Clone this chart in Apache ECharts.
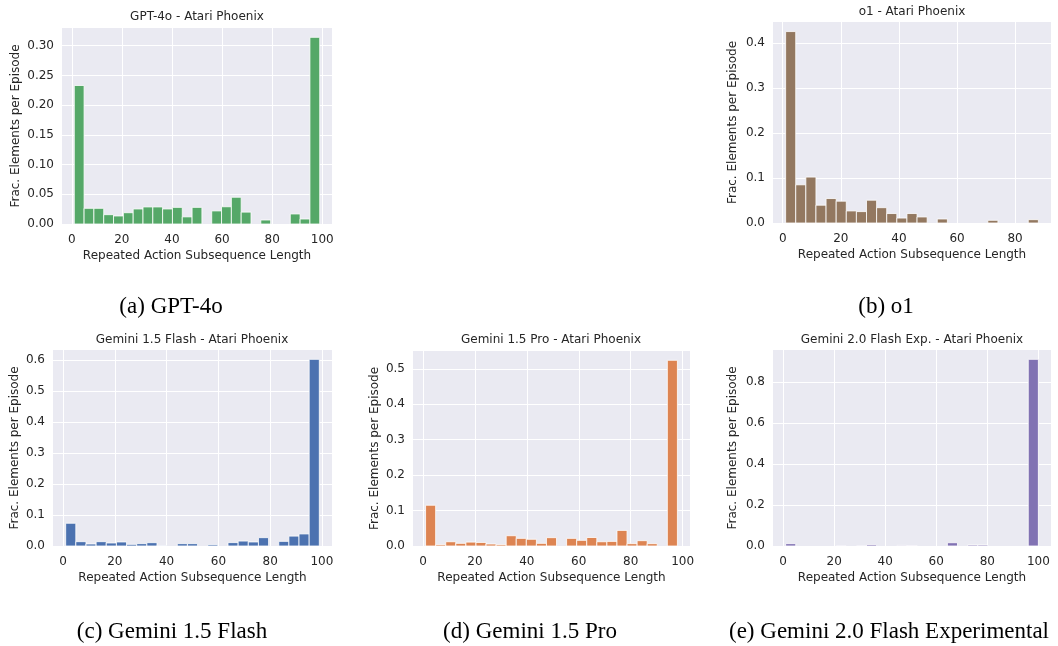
<!DOCTYPE html>
<html><head><meta charset="utf-8">
<script src="https://cdn.jsdelivr.net/npm/echarts@6/dist/echarts.min.js"></script>
<style>html,body{margin:0;padding:0;background:#fff}#c{width:1058px;height:646px}</style>
</head><body><div id="c"></div>
<script>
// ---------------- data ----------------
const binCount = 25;
const panelTitles = ['GPT-4o - Atari Phoenix', 'o1 - Atari Phoenix', 'Gemini 1.5 Flash - Atari Phoenix', 'Gemini 1.5 Pro - Atari Phoenix', 'Gemini 2.0 Flash Exp. - Atari Phoenix'];
const captions = ['(a) GPT-4o', '(b) o1', '(c) Gemini 1.5 Flash', '(d) Gemini 1.5 Pro', '(e) Gemini 2.0 Flash Experimental'];
const xAxisName = 'Repeated Action Subsequence Length';
const yAxisName = 'Frac. Elements per Episode';
// data range (min, max subsequence length) of each histogram
const binRanges = [[1, 99], [1, 88], [1, 99], [1, 98], [1, 100]];
const xTicks = [[0, 20, 40, 60, 80, 100], [0, 20, 40, 60, 80], [0, 20, 40, 60, 80, 100], [0, 20, 40, 60, 80, 100], [0, 20, 40, 60, 80, 100]];
const yTicks = [[0, 0.05, 0.10, 0.15, 0.20, 0.25, 0.30], [0, 0.1, 0.2, 0.3, 0.4], [0, 0.1, 0.2, 0.3, 0.4, 0.5, 0.6], [0, 0.1, 0.2, 0.3, 0.4, 0.5], [0, 0.2, 0.4, 0.6, 0.8]];
const yDecimals = [2, 1, 1, 1, 1];

const gpt4o = [0.233, 0.0264, 0.0264, 0.0157, 0.0135, 0.019, 0.0253, 0.0287, 0.0287, 0.0253, 0.028, 0.012, 0.028, 0, 0.022, 0.029, 0.045, 0.020, 0, 0.0067, 0, 0, 0.0169, 0.0084, 0.314];
const o1 = [0.425, 0.0848, 0.102, 0.0395, 0.0543, 0.0484, 0.0268, 0.0253, 0.0506, 0.034, 0.021, 0.011, 0.021, 0.0134, 0, 0.0089, 0, 0, 0, 0, 0.006, 0, 0, 0, 0.0074];
const gemini15Flash = [0.0735, 0.014, 0.0065, 0.014, 0.0097, 0.013, 0.0054, 0.0076, 0.0108, 0.001, 0, 0.0076, 0.0076, 0, 0.0043, 0, 0.011, 0.016, 0.013, 0.027, 0, 0.015, 0.032, 0.039, 0.603];
const gemini15Pro = [0.115, 0.0038, 0.012, 0.0075, 0.011, 0.010, 0.0056, 0.0038, 0.029, 0.0216, 0.019, 0.0075, 0.0235, 0, 0.0216, 0.016, 0.024, 0.012, 0.013, 0.044, 0.0066, 0.015, 0.0066, 0, 0.524];
const gemini20FlashExp = [0.0114, 0, 0, 0, 0, 0.0015, 0, 0.0015, 0.0065, 0, 0, 0.003, 0.002, 0, 0, 0, 0.016, 0, 0.005, 0.005, 0, 0, 0, 0, 0.912];

const seriesValues = [gpt4o, o1, gemini15Flash, gemini15Pro, gemini20FlashExp];

// ---------------- styles / layout ----------------
const colors = ['#55A868', '#937860', '#4C72B0', '#DD8452', '#8172B3'];
const grids = [
  { left: 62, top: 28, width: 270, height: 196 },
  { left: 773, top: 22, width: 278, height: 201 },
  { left: 53, top: 350, width: 279, height: 196 },
  { left: 413, top: 351, width: 277, height: 195 },
  { left: 773, top: 350, width: 278, height: 196 }
];
const yNameGaps = [40, 34, 32, 32, 34];
const titlePos = [[197, 17], [912, 12], [192, 340], [551, 340], [912, 340]];
const captionPos = [[171, 307], [886, 307], [172, 632], [530, 632], [889, 632]];
const textColor = '#262626';
const sans = 'DejaVu Sans';

function renderBar(params, api) {
  const x0 = api.value(0), x1 = api.value(1), h = api.value(2);
  if (!h) return null;
  const p0 = api.coord([x0, 0]);
  const p1 = api.coord([x1, h]);
  return {
    type: 'rect',
    shape: { x: p0[0], y: p1[1], width: p1[0] - p0[0], height: p0[1] - p1[1] },
    style: { fill: api.visual('color'), stroke: '#ffffff', lineWidth: 0.8 }
  };
}

const option = {
  animation: false,
  backgroundColor: '#ffffff',
  grid: [], xAxis: [], yAxis: [], series: [],
  graphic: { elements: [] }
};

seriesValues.forEach((vals, i) => {
  const lo = binRanges[i][0], hi = binRanges[i][1];
  const w = (hi - lo) / binCount;
  const span = hi - lo;
  const yMax = Math.max(...vals) * 1.05;
  option.grid.push(Object.assign({ show: true, backgroundColor: '#EAEAF2', borderWidth: 0, containLabel: false }, grids[i]));
  option.xAxis.push({
    gridIndex: i, type: 'value', min: lo - 0.05 * span, max: hi + 0.05 * span,
    axisLine: { show: false },
    axisTick: { show: false, customValues: xTicks[i] },
    axisLabel: { customValues: xTicks[i], color: textColor, fontSize: 12, fontFamily: sans, margin: 10 },
    splitLine: { show: true, lineStyle: { color: '#ffffff', width: 1 } },
    name: xAxisName, nameLocation: 'middle', nameGap: 26,
    nameTextStyle: { color: textColor, fontSize: 12, fontFamily: sans }
  });
  option.yAxis.push({
    gridIndex: i, type: 'value', min: 0, max: yMax,
    axisLine: { show: false },
    axisTick: { show: false, customValues: yTicks[i] },
    axisLabel: { customValues: yTicks[i], color: textColor, fontSize: 12, fontFamily: sans, margin: 8,
      formatter: v => v.toFixed(yDecimals[i]) },
    splitLine: { show: true, lineStyle: { color: '#ffffff', width: 1 } },
    name: yAxisName, nameLocation: 'middle', nameGap: yNameGaps[i], nameRotate: 90,
    nameTextStyle: { color: textColor, fontSize: 12, fontFamily: sans }
  });
  option.series.push({
    type: 'custom', xAxisIndex: i, yAxisIndex: i,
    renderItem: renderBar,
    itemStyle: { color: colors[i] },
    encode: { x: [0, 1], y: 2 },
    data: vals.map((v, k) => [lo + k * w, lo + (k + 1) * w, v])
  });
  option.graphic.elements.push({
    type: 'text', x: titlePos[i][0], y: titlePos[i][1],
    style: { text: panelTitles[i], align: 'center', verticalAlign: 'middle', textAlign: 'center', textVerticalAlign: 'middle',
      fontSize: 12, fontFamily: sans, fill: textColor }
  });
  option.graphic.elements.push({
    type: 'text', x: captionPos[i][0], y: captionPos[i][1],
    style: { text: captions[i], align: 'center', verticalAlign: 'middle', textAlign: 'center', textVerticalAlign: 'middle',
      fontSize: 23, fontFamily: 'Liberation Serif', fill: '#000000' }
  });
});

const chart = echarts.init(document.getElementById('c'), null, { renderer: 'canvas' });
chart.setOption(option);
</script>
</body></html>
